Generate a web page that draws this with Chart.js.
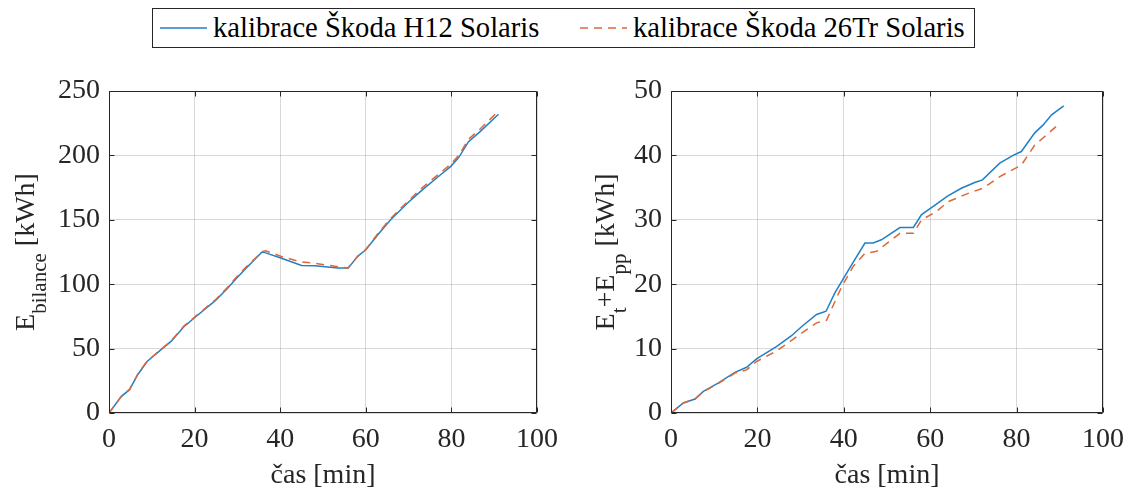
<!DOCTYPE html>
<html><head><meta charset="utf-8">
<script src="https://cdn.jsdelivr.net/npm/chart.js@4"></script>
<style>
body{margin:0;background:#fff;width:1136px;height:491px;overflow:hidden;position:relative;font-family:'Liberation Serif','Times New Roman',serif;}
#c1{position:absolute;left:0;top:0;}
#c2{position:absolute;left:568px;top:0;}
#legend{position:absolute;left:152px;top:8px;width:821px;height:38px;border:1px solid #262626;background:#fff;font-size:28.6px;color:#000;}
.it{position:absolute;top:0;height:38px;display:flex;align-items:center;white-space:nowrap;}
.it svg{margin-right:6px;}
</style></head><body>
<canvas id="c1" width="568" height="491"></canvas>
<canvas id="c2" width="568" height="491"></canvas>
<div id="legend">
  <div class="it" style="left:7px"><svg width="47" height="10"><line x1="0" y1="5" x2="47" y2="5" stroke="#1f80c6" stroke-width="1.5"/></svg><span id="lab1"></span></div>
  <div class="it" style="left:427px"><svg width="47" height="10"><line x1="0" y1="5" x2="47" y2="5" stroke="#e0663a" stroke-width="1.5" stroke-dasharray="8,6"/></svg><span id="lab2"></span></div>
</div>
<script>
// ---------- data ----------
const seriesNames = ['kalibrace Škoda H12 Solaris', 'kalibrace Škoda 26Tr Solaris'];
const xTicksLabel = 'čas [min]';

// Left panel: E_bilance [kWh]
const timeBilH12 = [0,2.9,4.8,6.7,8.9,12.1,14.5,17.5,20.2,24.9,27.6,29.9,32.2,35.7,36.1,40.3,45,48.1,53.5,55.9,58.1,60,63.1,65.8,69.7,73.2,77.4,79.8,81.7,84,86.7,91];
const bilH12     = [0,12.9,18.1,29.7,40,49,55.6,67,74.5,87.4,96.4,105,113,124.9,124.9,120.2,114.5,114.3,112.5,112.5,121.6,126.7,139.6,150,162.9,173.2,184.8,191.3,198.3,210.7,218.5,231.9];
const timeBil26Tr = [0,2.9,4.8,6.7,8.9,12.1,14.5,17.5,20.2,24.9,27.6,29.9,32.2,35.9,36.6,40.3,44.5,48.1,53.5,55.8,58.1,60,63.1,65.8,69.7,73.2,77.4,79.8,81.7,84,86.7,91];
const bil26Tr     = [0,12.9,18.3,30,40.3,49.3,56,67.5,75,88,97.3,106,114,125.5,126,121.5,117.5,116.3,113.5,112.5,121.6,127,140.5,151,164,175,186.5,193,200,212.5,220.5,234.5];

// Right panel: E_t + E_pp [kWh]
const timeTppH12 = [0,2.85,5.55,7.5,10.9,14.8,17.5,19.8,24.4,27.9,30.2,33.7,35.9,37.9,41.8,44.9,46.8,48.7,53,56.1,58,60.7,64.1,67.2,70.3,72.1,76.1,79.2,81.1,84.2,86.1,88.1,90.9];
const tppH12     = [0,1.55,2.17,3.36,4.65,6.3,7.1,8.4,10.3,12,13.4,15.3,15.8,18.6,23,26.4,26.4,26.9,28.8,28.8,30.8,32.1,33.7,34.9,35.8,36.2,38.8,40,40.6,43.5,44.7,46.3,47.7];
const timeTpp26Tr = [0,2.85,5.55,7.5,10.9,14.8,17.5,19.8,24.4,29.8,33.7,36,39.5,42.2,44.9,47.6,53,56.1,58,61.5,64.1,68.8,72.2,76.1,81.1,84.2,86.1,90];
const tpp26Tr     = [0,1.55,2.17,3.3,4.55,6.2,6.7,8.0,9.6,12.2,14,14.4,19.6,22.8,24.8,25.1,27.9,27.9,30,31.3,32.8,34.1,34.9,36.7,38.5,41.6,42.7,45];

const leftYTicksMax = 250, leftYStep = 50;
const rightYTicksMax = 50, rightYStep = 10;

// ---------- helpers ----------
const FONT = "'Liberation Serif','Times New Roman',serif";
const TXT = '#262626';
const BLUE = '#1f80c6', ORANGE = '#e0663a';
document.getElementById('lab1').textContent = seriesNames[0];
document.getElementById('lab2').textContent = seriesNames[1];

function pts(xs, ys){ return xs.map((v,i)=>({x:v, y:ys[i]})); }

function drawParts(ctx, parts, size, subSize, subOff){
  let w = 0;
  parts.forEach(p=>{ ctx.font = (p.sub?subSize:size)+'px '+FONT; p.w = ctx.measureText(p.t).width; w += p.w; });
  let x = -w/2;
  parts.forEach(p=>{ ctx.font = (p.sub?subSize:size)+'px '+FONT; ctx.fillText(p.t, x, p.sub?subOff:0); x += p.w; });
}

const framePlugin = {
  id:'frame',
  afterDraw(chart, args, opts){
    const {ctx, chartArea:a, scales:{x, y}} = chart;
    ctx.save();
    ctx.strokeStyle = TXT; ctx.lineWidth = 1;
    const L = Math.round(a.left)+0.5, R = Math.round(a.right)-0.5, T = Math.round(a.top)+0.5, B = Math.round(a.bottom)-0.5;
    ctx.beginPath();
    ctx.rect(L, T, R-L, B-T);
    x.ticks.forEach(t=>{ const px = Math.round(x.getPixelForValue(t.value))+0.5; ctx.moveTo(px,B); ctx.lineTo(px,B-5); ctx.moveTo(px,T); ctx.lineTo(px,T+5); });
    y.ticks.forEach(t=>{ const py = Math.round(y.getPixelForValue(t.value))+0.5; ctx.moveTo(L,py); ctx.lineTo(L+5,py); ctx.moveTo(R,py); ctx.lineTo(R-5,py); });
    ctx.stroke();
    ctx.fillStyle = TXT;
    ctx.textBaseline = 'middle'; ctx.textAlign = 'center';
    ctx.font = '28px '+FONT;
    ctx.fillText(opts.xTitle, (a.left+a.right)/2, opts.xTitleY);
    ctx.textBaseline = 'alphabetic'; ctx.textAlign = 'left';
    ctx.translate(opts.yTitleX, (a.top+a.bottom)/2);
    ctx.rotate(-Math.PI/2);
    drawParts(ctx, opts.yParts, 28, 21, 12);
    ctx.restore();
  }
};

function makeChart(id, datasets, ymax, ystep, yWidth, padRight, yTitleX, yParts){
  return new Chart(document.getElementById(id), {
    type:'line',
    data:{ datasets },
    options:{
      responsive:false, animation:false,
      layout:{ padding:{ left:0, right:padRight, top:91, bottom:0 } },
      plugins:{ legend:{display:false}, tooltip:{enabled:false},
        frame:{ xTitle:xTicksLabel, xTitleY:476, yTitleX, yParts } },
      elements:{ point:{radius:0}, line:{tension:0} },
      scales:{
        x:{ type:'linear', min:0, max:100,
            ticks:{ stepSize:20, font:{family:FONT,size:28}, color:TXT, padding:10, maxRotation:0 },
            grid:{ color:'rgba(0,0,0,0.15)', drawTicks:false }, border:{display:false},
            afterFit(s){ s.height = 78; } },
        y:{ type:'linear', min:0, max:ymax,
            ticks:{ stepSize:ystep, font:{family:FONT,size:28}, color:TXT, padding:9 },
            grid:{ color:'rgba(0,0,0,0.15)', drawTicks:false }, border:{display:false},
            afterFit(s){ s.width = yWidth; } }
      }
    },
    plugins:[framePlugin]
  });
}

function ds(label, data, color, dash){
  return { label, data, borderColor:color, borderWidth:1.5, borderDash:dash||[], fill:false, pointRadius:0 };
}

makeChart('c1', [
  ds(seriesNames[1], pts(timeBil26Tr, bil26Tr), ORANGE, [8,6]),
  ds(seriesNames[0], pts(timeBilH12, bilH12), BLUE)
], leftYTicksMax, leftYStep, 109, 27, 34,
  [{t:'E'},{t:'bilance',sub:true},{t:' [kWh]'}]);

makeChart('c2', [
  ds(seriesNames[1], pts(timeTpp26Tr, tpp26Tr), ORANGE, [8,6]),
  ds(seriesNames[0], pts(timeTppH12, tppH12), BLUE)
], rightYTicksMax, rightYStep, 103, 33, 46,
  [{t:'E'},{t:'t',sub:true},{t:'+E'},{t:'pp',sub:true},{t:' [kWh]'}]);
</script>
</body></html>
